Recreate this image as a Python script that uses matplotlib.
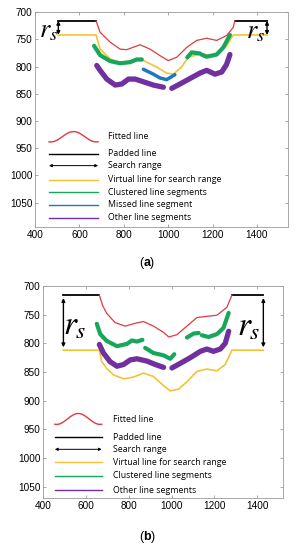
import numpy as np
import matplotlib
matplotlib.use("Agg")
import matplotlib.pyplot as plt

plt.rcParams['mathtext.fontset'] = 'stix'

# ---------- panel (a) data ----------
a_pad_left_x = [505, 675]
a_pad_right_x = [1300, 1445]
a_pad_y = 716
a_virt_flat_y = 742

a_fit_x = [675, 693, 738, 783, 813, 873, 918, 963, 1000, 1038, 1083, 1128, 1173, 1218, 1263, 1293, 1300]
a_fit_y = [716, 737, 755, 768, 769, 760, 768, 780, 789, 783, 765, 752, 748, 752, 743, 728, 716]

a_virt_x = [505, 675, 693, 738, 783, 843, 888, 948, 993, 1023, 1060, 1090, 1143, 1203, 1263, 1293, 1445]
a_virt_y = [742, 742, 768, 786, 793, 789, 789, 801, 812, 814, 801, 783, 777, 780, 762, 742, 742]

a_green1_x = [666, 693, 738, 783, 828, 858, 881]
a_green1_y = [762, 779, 790, 794, 792, 787, 787]
a_green2_x = [1086, 1106, 1143]
a_green2_y = [783, 774, 776]
a_green3_x = [1150, 1173, 1218, 1248, 1278]
a_green3_y = [778, 782, 778, 765, 742]

a_blue_x = [888, 933, 963, 993, 1030]
a_blue_y = [805, 814, 821, 824, 815]

a_purp1_x = [678, 693, 723, 761, 791, 821, 851, 888, 933, 978]
a_purp1_y = [798, 807, 823, 834, 832, 823, 823, 828, 834, 838]
a_purp2_x = [1016, 1053, 1098, 1143, 1173, 1211, 1241, 1263, 1278]
a_purp2_y = [840, 832, 822, 812, 807, 814, 810, 796, 778]

a_labels = ["Fitted line", "Padded line", "Search range", "Virtual line for search range",
            "Clustered line segments", "Missed line segment", "Other line segments"]
a_label_y = [928, 960, 982, 1008, 1031, 1054, 1078]

# ---------- panel (b) data ----------
b_pad_left_x = [495, 663]
b_pad_right_x = [1282, 1429]
b_pad_y = 716

b_fit_x = [663, 678, 698, 737, 784, 831, 869, 916, 963, 987, 1025, 1072, 1119, 1165, 1212, 1259, 1282]
b_fit_y = [716, 734, 748, 764, 770, 765, 762, 770, 781, 789, 785, 770, 755, 753, 751, 737, 716]

b_virt_x = [495, 663, 674, 698, 729, 776, 822, 869, 916, 963, 994, 1033, 1072, 1119, 1165, 1212, 1251, 1282, 1429]
b_virt_y = [812, 812, 832, 844, 855, 862, 859, 852, 858, 874, 883, 880, 867, 849, 845, 848, 837, 812, 812]

b_green1_x = [651, 667, 698, 745, 792, 815, 838, 864]
b_green1_y = [766, 784, 796, 805, 801, 795, 797, 794]
b_green2_x = [877, 916, 963, 994, 1013]
b_green2_y = [808, 817, 821, 827, 819]
b_green3_x = [1072, 1103, 1127]
b_green3_y = [790, 783, 782]
b_green4_x = [1142, 1173, 1212, 1243, 1267]
b_green4_y = [786, 789, 784, 773, 747]

b_purp1_x = [663, 682, 713, 745, 776, 807, 838, 885, 924, 963]
b_purp1_y = [802, 817, 832, 840, 837, 829, 827, 831, 837, 842]
b_purp2_x = [1002, 1041, 1088, 1135, 1165, 1196, 1228, 1251, 1267]
b_purp2_y = [843, 835, 825, 814, 810, 814, 810, 800, 779]

b_labels = ["Fitted line", "Padded line", "Search range", "Virtual line for search range",
            "Clustered line segments", "Other line segments"]
b_label_y = [933, 964, 985, 1008, 1031, 1056]

RED = '#e2393f'
YEL = '#f4c232'
GRN = '#17a65a'
BLU = '#1c78c0'
PUR = '#7030a0'
GRAY = '#9a9a9a'


def style_axes(ax, xlim, ylim):
    ax.set_xlim(*xlim)
    ax.set_ylim(*ylim)
    ax.set_xticks([400, 600, 800, 1000, 1200, 1400])
    ax.set_yticks([700, 750, 800, 850, 900, 950, 1000, 1050])
    ax.tick_params(direction='in', length=2, width=0.6, color=GRAY,
                   labelsize=7.2, pad=2, top=True, right=True)
    for lab in ax.get_xticklabels() + ax.get_yticklabels():
        lab.set_fontfamily('Liberation Sans')
    for sp in ax.spines.values():
        sp.set_color(GRAY)
        sp.set_linewidth(0.6)


def legend_block(ax, labels, label_y, colors, x0, x1, xt, bump_y):
    # fitted-line sample: one hump of a cosine with small hooks at the ends
    t = np.linspace(-1.08 * np.pi, 1.08 * np.pi, 60)
    bx = x0 + (t - t[0]) / (t[-1] - t[0]) * (x1 - x0)
    ax.plot(bx, bump_y - 9.5 * np.cos(t), color=RED, lw=1.0)
    for i, (lab, yy) in enumerate(zip(labels, label_y)):
        ax.text(xt, yy, lab, fontsize=6.3, family='Open Sans', va='center', ha='left')
        if i == 0:
            continue
        if lab == "Search range":
            ax.annotate('', xy=(x0, yy), xytext=(x1, yy),
                        arrowprops=dict(arrowstyle='<|-|>', color='black', lw=0.7,
                                        mutation_scale=4, shrinkA=0, shrinkB=0))
        else:
            ax.plot([x0, x1], [yy, yy], color=colors[lab], lw=1.0)


def rs_arrow(ax, x, y0, y1):
    ax.annotate('', xy=(x, y0), xytext=(x, y1),
                arrowprops=dict(arrowstyle='<|-|>', color='black', lw=1.0,
                                mutation_scale=5, shrinkA=0, shrinkB=0))


fig = plt.figure(figsize=(2.97, 5.5), dpi=100)

# ---------------- (a) ----------------
ax1 = fig.add_axes([0.118, 0.587, 0.852, 0.391])
ax1.plot(a_pad_left_x, [a_pad_y] * 2, color='black', lw=1.3)
ax1.plot(a_pad_right_x, [a_pad_y] * 2, color='black', lw=1.3)
ax1.plot(a_virt_x, a_virt_y, color=YEL, lw=1.2)
ax1.plot(a_fit_x, a_fit_y, color=RED, lw=0.9)
ax1.plot(a_green1_x, a_green1_y, color=GRN, lw=3.0, solid_capstyle='round')
ax1.plot(a_green2_x, a_green2_y, color=GRN, lw=3.0, solid_capstyle='round')
ax1.plot(a_green3_x, a_green3_y, color=GRN, lw=3.0, solid_capstyle='round')
ax1.plot(a_blue_x, a_blue_y, color=BLU, lw=2.5, solid_capstyle='round')
ax1.plot(a_purp1_x, a_purp1_y, color=PUR, lw=3.8, solid_capstyle='round')
ax1.plot(a_purp2_x, a_purp2_y, color=PUR, lw=3.8, solid_capstyle='round')
rs_arrow(ax1, a_pad_left_x[0], a_pad_y, a_virt_flat_y)
rs_arrow(ax1, a_pad_right_x[1], a_pad_y, a_virt_flat_y)
ax1.text(462, 733, r'$r_s$', fontsize=19, ha='center', va='center')
ax1.text(1392, 735, r'$r_s$', fontsize=19, ha='center', va='center')
colors_a = {"Padded line": 'black', "Virtual line for search range": YEL,
            "Clustered line segments": GRN, "Missed line segment": BLU,
            "Other line segments": PUR}
legend_block(ax1, a_labels, a_label_y, colors_a, 463, 684, 729, 929)
style_axes(ax1, (400, 1540), (1095, 700))
fig.text(0.482, 0.522, '(', fontsize=9, ha='right', va='center', family='Liberation Sans')
fig.text(0.482, 0.522, 'a', fontsize=9, ha='left', va='center', family='Liberation Sans', weight='bold')
fig.text(0.506, 0.522, ')', fontsize=9, ha='left', va='center', family='Liberation Sans')

# ---------------- (b) ----------------
ax2 = fig.add_axes([0.145, 0.0945, 0.808, 0.3855])
ax2.plot(b_pad_left_x, [b_pad_y] * 2, color='black', lw=1.3)
ax2.plot(b_pad_right_x, [b_pad_y] * 2, color='black', lw=1.3)
ax2.plot(b_virt_x, b_virt_y, color=YEL, lw=1.2)
ax2.plot(b_fit_x, b_fit_y, color=RED, lw=0.9)
for gx, gy in [(b_green1_x, b_green1_y), (b_green2_x, b_green2_y),
               (b_green3_x, b_green3_y), (b_green4_x, b_green4_y)]:
    ax2.plot(gx, gy, color=GRN, lw=3.0, solid_capstyle='round')
ax2.plot(b_purp1_x, b_purp1_y, color=PUR, lw=3.8, solid_capstyle='round')
ax2.plot(b_purp2_x, b_purp2_y, color=PUR, lw=3.8, solid_capstyle='round')
rs_arrow(ax2, b_pad_left_x[0], 721, 807)
rs_arrow(ax2, b_pad_right_x[1], 721, 807)
ax2.text(548, 768, r'$r_s$', fontsize=24, ha='center', va='center')
ax2.text(1362, 770, r'$r_s$', fontsize=24, ha='center', va='center')
colors_b = {"Padded line": 'black', "Virtual line for search range": YEL,
            "Clustered line segments": GRN, "Other line segments": PUR}
legend_block(ax2, b_labels, b_label_y, colors_b, 455, 674, 726, 932)
style_axes(ax2, (400, 1521), (1070, 700))
fig.text(0.482, 0.024, '(', fontsize=9, ha='right', va='center', family='Liberation Sans')
fig.text(0.482, 0.024, 'b', fontsize=9, ha='left', va='center', family='Liberation Sans', weight='bold')
fig.text(0.509, 0.024, ')', fontsize=9, ha='left', va='center', family='Liberation Sans')

fig.savefig('out.png', dpi=100)
